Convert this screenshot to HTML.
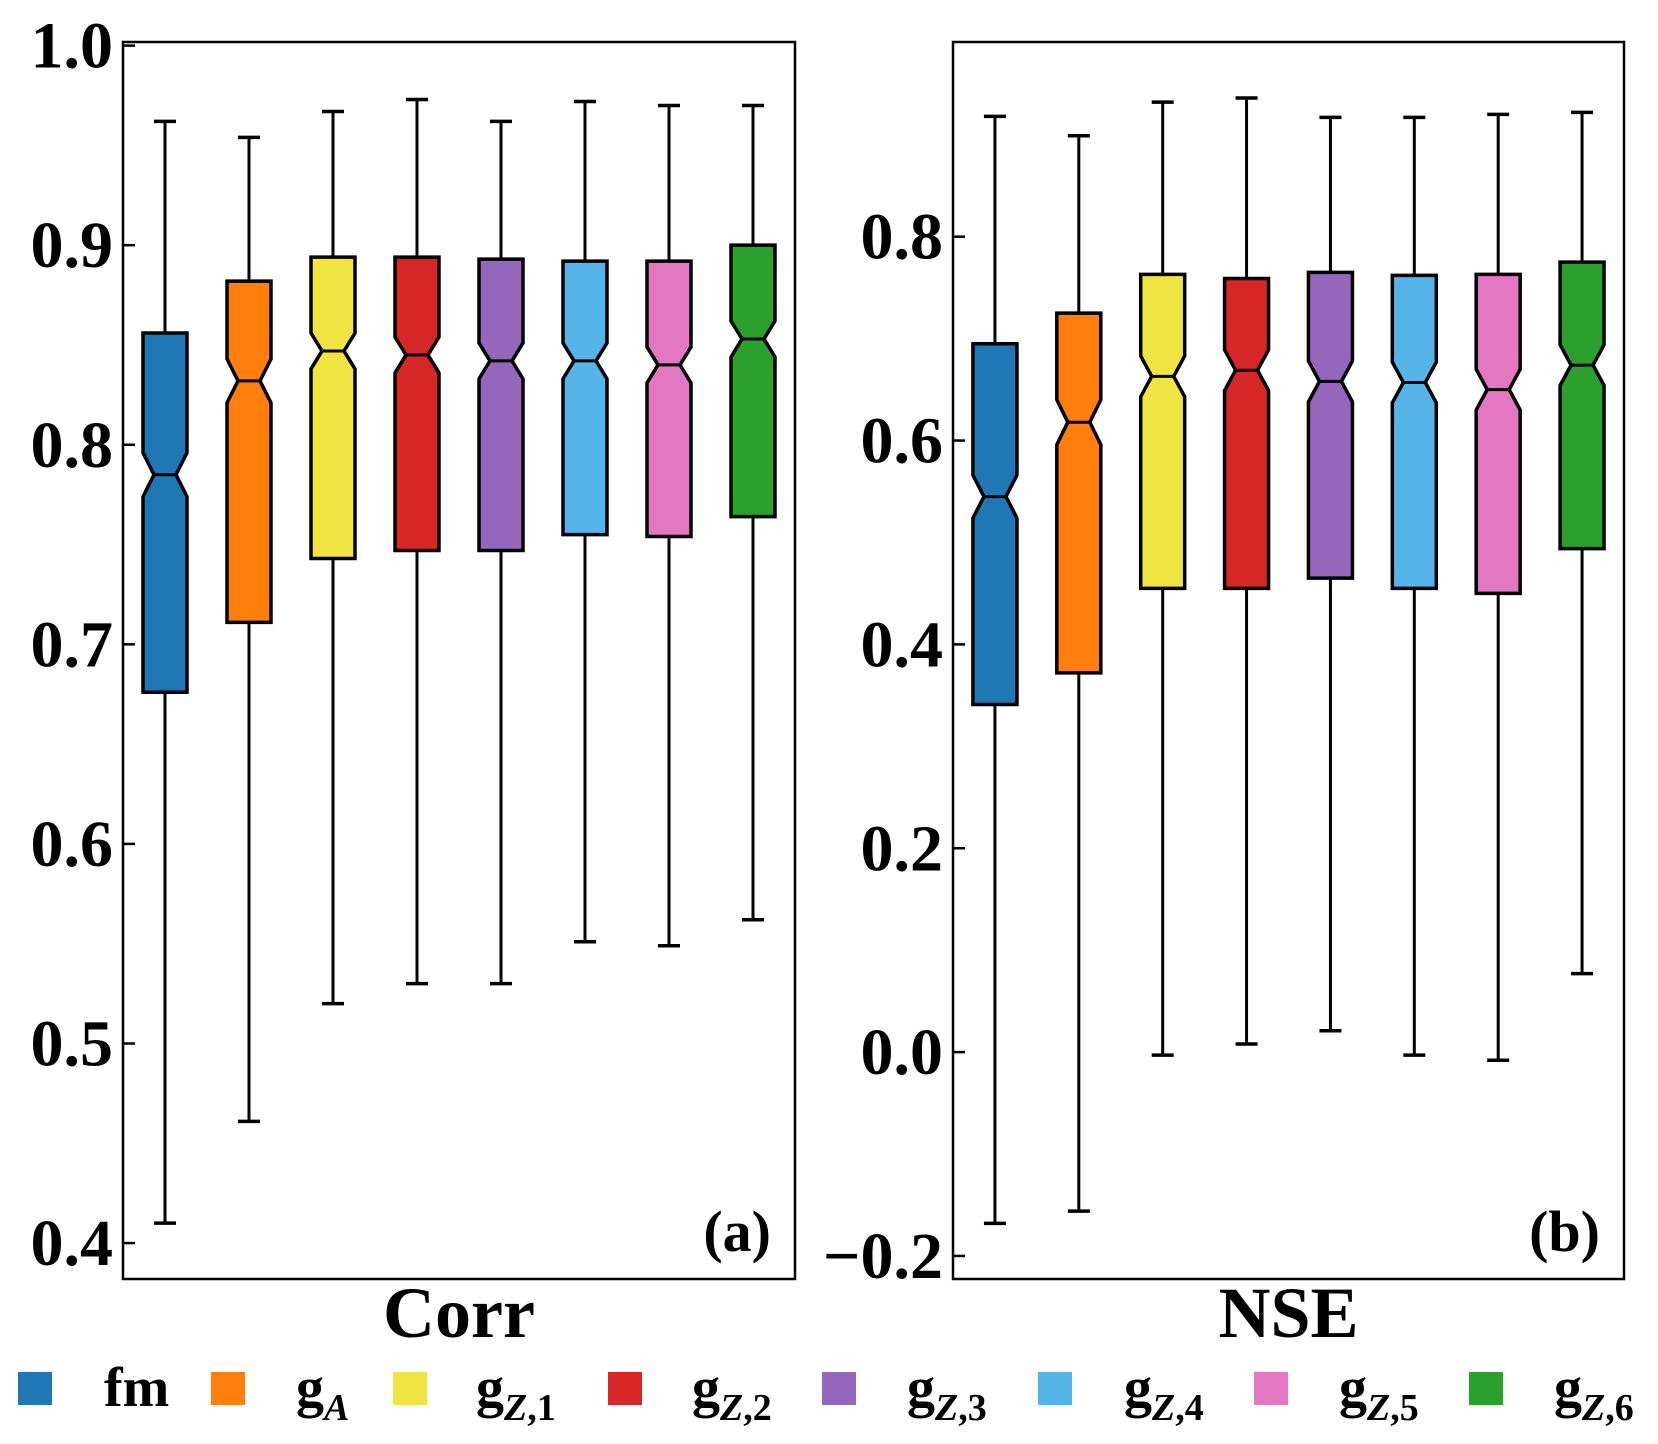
<!DOCTYPE html>
<html><head><meta charset="utf-8"><style>
html,body{margin:0;padding:0;background:#fff}
svg{display:block}
text{font-family:"Liberation Serif",serif;font-weight:bold;fill:#000}
</style></head><body>
<svg id="chart" width="1658" height="1444" viewBox="0 0 1658 1444" xmlns="http://www.w3.org/2000/svg"></svg>
<script>
const categories = ["fm","gA","gZ1","gZ2","gZ3","gZ4","gZ5","gZ6"];
const colors = ["#1f77b4","#ff7f0e","#f0e442","#d62728","#9467bd","#56b4e9","#e377c2","#2ca02c"];
// Panel a (Corr)
const corrWhiskerHi = [0.962,0.954,0.967,0.973,0.962,0.972,0.970,0.970];
const corrQ3 = [0.856,0.882,0.894,0.894,0.893,0.892,0.892,0.900];
const corrMedian = [0.785,0.832,0.847,0.845,0.842,0.842,0.840,0.853];
const corrQ1 = [0.676,0.711,0.743,0.747,0.747,0.755,0.754,0.764];
const corrWhiskerLo = [0.410,0.461,0.520,0.530,0.530,0.551,0.549,0.562];
const corrNotch = [0.011,0.011,0.009,0.009,0.009,0.009,0.009,0.009];
const corrTicks = [0.4,0.5,0.6,0.7,0.8,0.9,1.0];
const corrTickLabels = ["0.4","0.5","0.6","0.7","0.8","0.9","1.0"];
// Panel b (NSE)
const nseWhiskerHi = [0.918,0.899,0.932,0.936,0.917,0.917,0.920,0.922];
const nseQ3 = [0.695,0.725,0.763,0.759,0.765,0.762,0.763,0.775];
const nseMedian = [0.545,0.618,0.663,0.669,0.658,0.657,0.650,0.674];
const nseQ1 = [0.341,0.372,0.455,0.455,0.465,0.455,0.450,0.494];
const nseWhiskerLo = [-0.168,-0.156,-0.003,0.008,0.021,-0.003,-0.008,0.077];
const nseNotch = [0.021,0.022,0.020,0.020,0.020,0.020,0.020,0.020];
const nseTicks = [-0.2,0.0,0.2,0.4,0.6,0.8];
const nseTickLabels = ["\u22120.2","0.0","0.2","0.4","0.6","0.8"];

const NS="http://www.w3.org/2000/svg";
const svg=document.getElementById('chart');
function mk(tag,attrs,parent){const e=document.createElementNS(NS,tag);for(const k in attrs)e.setAttribute(k,attrs[k]);(parent||svg).appendChild(e);return e;}

function panel(opt){
  const {left,right,top,bottom,vTop,vBot,hi,q3,med,q1,lo,notch,ticks,tickLabels,title,tag,name}=opt;
  const g=mk('g',{});
  
  
  const y=v=>top+(vTop-v)/(vTop-vBot)*(bottom-top);
  const step=(right-left)/categories.length;
  const x=i=>left+step*(i+0.5);
  const bw=44, cap=22;
  categories.forEach((c,i)=>{
    const cx=x(i);
    const bg=mk('g',{},g);
    
    
    mk('line',{x1:cx,x2:cx,y1:y(hi[i]),y2:y(q3[i]),stroke:'#000','stroke-width':3},bg);
    mk('line',{x1:cx,x2:cx,y1:y(q1[i]),y2:y(lo[i]),stroke:'#000','stroke-width':3},bg);
    mk('line',{x1:cx-cap/2,x2:cx+cap/2,y1:y(hi[i]),y2:y(hi[i]),stroke:'#000','stroke-width':3.5},bg);
    mk('line',{x1:cx-cap/2,x2:cx+cap/2,y1:y(lo[i]),y2:y(lo[i]),stroke:'#000','stroke-width':3.5},bg);
    const L=cx-bw/2,R=cx+bw/2,l2=cx-bw/4,r2=cx+bw/4;
    const nh=y(med[i]+notch[i]),nl=y(med[i]-notch[i]),m=y(med[i]);
    const pts=[[L,y(q1[i])],[L,nl],[l2,m],[L,nh],[L,y(q3[i])],[R,y(q3[i])],[R,nh],[r2,m],[R,nl],[R,y(q1[i])]];
    mk('polygon',{points:pts.map(p=>p.join(',')).join(' '),fill:colors[i],stroke:'#000','stroke-width':3.5,'stroke-linejoin':'miter'},bg);
    mk('line',{x1:l2,x2:r2,y1:m,y2:m,stroke:'#000','stroke-width':3},bg);
  });
  mk('rect',{x:left,y:top,width:right-left,height:bottom-top,fill:'none',stroke:'#000','stroke-width':2.5},g);
  ticks.forEach((t,i)=>{
    const ty=y(t);
    mk('line',{x1:left,x2:left+12,y1:ty,y2:ty,stroke:'#000','stroke-width':2.5},g);
    const tx=mk('text',{x:left-10,y:ty+22,'text-anchor':'end','font-size':66},g);
    
    
    tx.textContent=tickLabels[i];
  });
  const tl=mk('text',{x:(left+right)/2,y:1337,'text-anchor':'middle','font-size':72},g);
  
  
  tl.textContent=title;
  const pl=mk('text',{x:right-24,y:1251,'text-anchor':'end','font-size':58},g);
  
  
  pl.textContent=tag;
}
panel({left:123,right:795,top:42,bottom:1279,vTop:1.0018,vBot:0.382,hi:corrWhiskerHi,q3:corrQ3,med:corrMedian,q1:corrQ1,lo:corrWhiskerLo,notch:corrNotch,ticks:corrTicks,tickLabels:corrTickLabels,title:'Corr',tag:'(a)',name:'corr'});
panel({left:953,right:1624,top:42,bottom:1279,vTop:0.991,vBot:-0.2226,hi:nseWhiskerHi,q3:nseQ3,med:nseMedian,q1:nseQ1,lo:nseWhiskerLo,notch:nseNotch,ticks:nseTicks,tickLabels:nseTickLabels,title:'NSE',tag:'(b)',name:'nse'});

// legend
const legSq=[18,211,393,608,822,1038,1254,1469];
const legTx=[104,296,476,692,907,1124,1339,1554];
const legMain=["fm","g","g","g","g","g","g","g"];
const legSub=["","A","Z","Z","Z","Z","Z","Z"];
const legNum=["","","1","2","3","4","5","6"];
categories.forEach((c,i)=>{
  const lg=mk('g',{});
  
  
  mk('rect',{x:legSq[i],y:1372,width:34,height:33,fill:colors[i]},lg);
  const t=mk('text',{x:legTx[i],y:1406,'font-size':56},lg);
  t.appendChild(document.createTextNode(legMain[i]));
  if(legSub[i]){
    const s=mk('tspan',{dy:14,'font-size':38,'font-style':'italic'},t);
    s.textContent=legSub[i];
    if(legNum[i]){const n=mk('tspan',{'font-size':38},t);n.textContent=","+legNum[i];}
  }
});
</script>
</body></html>
